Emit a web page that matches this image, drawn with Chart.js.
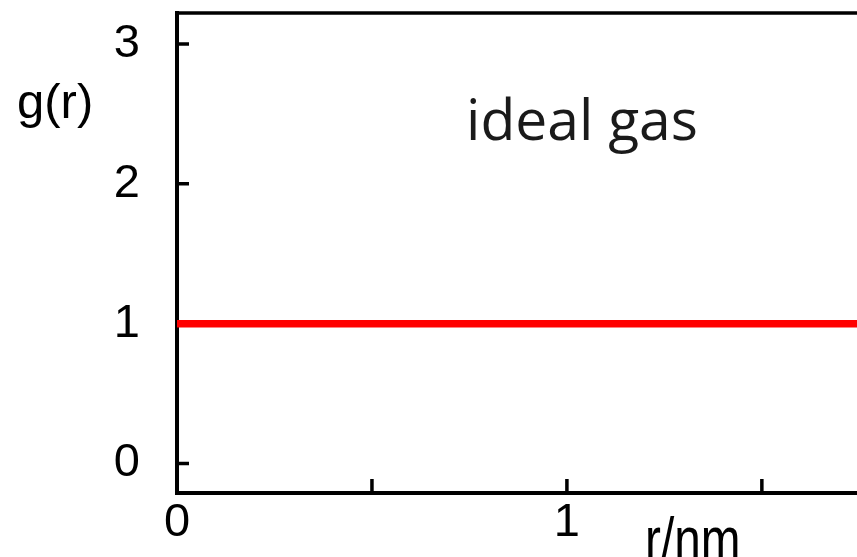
<!DOCTYPE html>
<html>
<head>
<meta charset="utf-8">
<script src="https://cdn.jsdelivr.net/npm/chart.js@4.4.1/dist/chart.umd.min.js"></script>
<style>
  html, body { margin: 0; padding: 0; background: #fff; overflow: hidden; }
  #wrap { width: 857px; height: 557px; }
</style>
</head>
<body>
<div id="wrap"><canvas id="c" width="857" height="557"></canvas></div>
<script>
// Radial distribution function of an ideal gas: g(r) = 1 everywhere
const radius = [0, 1.744];          // r / nm
const gOfR = [1, 1];                // g(r)
const xTickValues = [0, 0.5, 1, 1.5];
const xTickLabels = ['0', '', '1', ''];
const yTickValues = [0, 1, 2, 3];
const yTickLabels = ['0', '1', '2', '3'];
const xRange = [0, 1.744];
const yRange = [-0.211, 3.222];

const tickFont = { family: "'Liberation Sans', Arial, sans-serif", size: 47 };

// Drop the automatic label padding so the plot box keeps a fixed size
function fixBox(s, w, h) {
  if (w !== undefined) s.width = w;
  if (h !== undefined) s.height = h;
  s.paddingTop = 0; s.paddingBottom = 0; s.paddingLeft = 0; s.paddingRight = 0;
}

// Inward tick marks, top frame line and free-standing labels
const framePlugin = {
  id: 'frame',
  beforeDatasetsDraw(chart) {
    const { ctx, chartArea: a, scales } = chart;
    ctx.save();
    ctx.strokeStyle = '#000';
    ctx.lineWidth = 3.5;
    ctx.beginPath();
    scales.y.ticks.forEach(t => {
      const y = scales.y.getPixelForValue(t.value);
      ctx.moveTo(a.left, y);
      ctx.lineTo(a.left + 12, y);
    });
    scales.x.ticks.forEach(t => {
      if (t.value === xRange[0]) return;
      const x = scales.x.getPixelForValue(t.value);
      ctx.moveTo(x, a.bottom);
      ctx.lineTo(x, a.bottom - 14);
    });
    ctx.stroke();
    ctx.restore();
  },
  afterDraw(chart) {
    const { ctx, chartArea: a } = chart;
    ctx.save();
    // top frame
    ctx.strokeStyle = '#000';
    ctx.lineWidth = 3.5;
    ctx.beginPath();
    ctx.moveTo(a.left - 2, a.top);
    ctx.lineTo(chart.width, a.top);
    ctx.stroke();

    ctx.fillStyle = '#000';
    ctx.textAlign = 'left';
    ctx.textBaseline = 'alphabetic';
    // y axis title
    ctx.font = "49px 'Liberation Sans', Arial, sans-serif";
    ctx.fillText('g(r)', 17, 118);
    // x axis title, condensed
    ctx.save();
    ctx.translate(645, 560);
    ctx.scale(0.77, 1);
    ctx.font = "62px 'Liberation Sans', Arial, sans-serif";
    ctx.fillText('r/nm', 0, 0);
    ctx.restore();
    // in-plot annotation
    ctx.fillStyle = '#1a1a1a';
    ctx.font = "57px 'Open Sans', 'Noto Sans', sans-serif";
    ctx.fillText('ideal gas', 466, 140);
    ctx.restore();
  }
};

new Chart(document.getElementById('c'), {
  type: 'scatter',
  data: {
    datasets: [{
      data: radius.map((r, i) => ({ x: r, y: gOfR[i] })),
      showLine: true,
      borderColor: '#ff0000',
      borderWidth: 7.5,
      pointRadius: 0,
      fill: false
    }]
  },
  options: {
    responsive: false,
    animation: false,
    layout: { autoPadding: false, padding: { top: 13, right: 0, left: 0, bottom: 0 } },
    plugins: { legend: { display: false }, tooltip: { enabled: false } },
    scales: {
      x: {
        type: 'linear',
        min: xRange[0],
        max: xRange[1],
        afterBuildTicks: s => { s.ticks = xTickValues.map(v => ({ value: v })); },
        afterFit: s => fixBox(s, undefined, 64),
        border: { display: true, color: '#000', width: 4 },
        grid: { display: true, drawOnChartArea: false, drawTicks: false },
        ticks: {
          autoSkip: false,
          maxRotation: 0,
          padding: 2,
          color: '#000',
          font: tickFont,
          callback: v => { const i = xTickValues.indexOf(v); return i >= 0 ? xTickLabels[i] : ''; }
        }
      },
      y: {
        type: 'linear',
        min: yRange[0],
        max: yRange[1],
        afterBuildTicks: s => { s.ticks = yTickValues.map(v => ({ value: v })); },
        afterFit: s => fixBox(s, 177, undefined),
        border: { display: true, color: '#000', width: 4 },
        grid: { display: true, drawOnChartArea: false, drawTicks: false },
        ticks: {
          autoSkip: false,
          padding: 37,
          color: '#000',
          font: tickFont,
          callback: v => { const i = yTickValues.indexOf(v); return i >= 0 ? yTickLabels[i] : ''; }
        }
      }
    }
  },
  plugins: [framePlugin]
});
</script>
</body>
</html>
